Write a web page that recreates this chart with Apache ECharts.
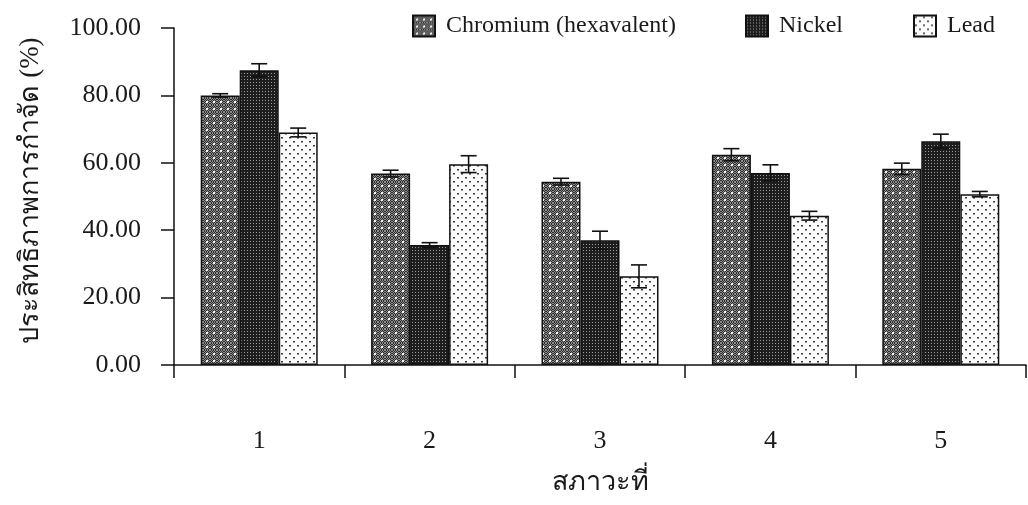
<!DOCTYPE html>
<html><head><meta charset="utf-8">
<script src="https://cdn.jsdelivr.net/npm/echarts@6/dist/echarts.min.js"></script>
<style>html,body{margin:0;padding:0;background:#fff}#c{width:1028px;height:505px}</style>
</head><body><div id="c"></div>
<script>
const categories = ['1', '2', '3', '4', '5'];
const seriesNames = ['Chromium (hexavalent)', 'Nickel', 'Lead'];
const chromium = [80.0, 56.8, 54.4, 62.4, 58.2];
const chromiumErr = [0.5, 1.0, 1.0, 1.8, 1.7];
const nickel = [87.5, 35.6, 37.0, 57.0, 66.4];
const nickelErr = [1.9, 0.7, 2.7, 2.4, 2.1];
const lead = [69.0, 59.6, 26.3, 44.3, 50.7];
const leadErr = [1.3, 2.5, 3.4, 1.3, 0.8];
const yMin = 0, yMax = 100, yStep = 20;

const FONT = '"Liberation Serif", serif';
const INK = '#1a1a1a';

function tile(w, h, bg, draw) {
  const c = document.createElement('canvas');
  c.width = w; c.height = h;
  const g = c.getContext('2d');
  g.fillStyle = bg; g.fillRect(0, 0, w, h);
  draw(g);
  return c;
}
const crTile = tile(7, 7, '#2e2e2e', g => {
  g.fillStyle = '#8c8c8c';
  for (let x = 0; x < 7; x++) for (let y = 0; y < 7; y++) if ((x + y) % 2 === 0) g.fillRect(x, y, 1, 1);
  g.fillStyle = '#f0f0f0'; g.fillRect(3, 3, 2, 2);
});
const niTile = tile(3, 3, '#1e1e1e', g => {
  g.fillStyle = '#9a9a9a'; g.fillRect(1, 1, 1, 1);
});
const pbTile = tile(8, 8, '#fbfbfb', g => {
  g.fillStyle = '#3a3a3a'; g.fillRect(1, 1, 2, 1.5); g.fillRect(5, 5, 2, 1.5);
});
const patterns = [crTile, niTile, pbTile];
const values = [chromium, nickel, lead];
const errors = [chromiumErr, nickelErr, leadErr];
const BAR_W = 39;
const offsets = [-BAR_W, 0, BAR_W];

function errRender(k) {
  return function (params, api) {
    const i = api.value(0), v = api.value(1), e = api.value(2);
    const top = api.coord([i, v + e]);
    const bot = api.coord([i, v - e]);
    const cx = top[0] + offsets[k];
    const hw = 8;
    const st = { stroke: '#111', lineWidth: 1.6 };
    return {
      type: 'group',
      children: [
        { type: 'line', shape: { x1: cx, y1: top[1], x2: cx, y2: bot[1] }, style: st },
        { type: 'line', shape: { x1: cx - hw, y1: top[1], x2: cx + hw, y2: top[1] }, style: st },
        { type: 'line', shape: { x1: cx - hw, y1: bot[1], x2: cx + hw, y2: bot[1] }, style: st }
      ]
    };
  };
}

const series = [];
for (let k = 0; k < 3; k++) {
  series.push({
    name: seriesNames[k], type: 'bar', barWidth: BAR_W, barGap: '0%',
    data: values[k],
    itemStyle: { color: { image: patterns[k], repeat: 'repeat' }, borderColor: '#111', borderWidth: 1.5 },
    emphasis: { disabled: true }
  });
}
for (let k = 0; k < 3; k++) {
  series.push({
    name: 'err' + k, type: 'custom', renderItem: errRender(k), z: 5,
    data: values[k].map((v, i) => [i, v, errors[k][i]])
  });
}

const legendBase = {
  itemWidth: 22, itemHeight: 21, top: 14, icon: 'rect', padding: 0,
  textStyle: { fontFamily: FONT, fontSize: 24, color: INK, padding: [0, 0, 0, 6] },
  selectedMode: false
};
const chart = echarts.init(document.getElementById('c'), null, { renderer: 'canvas' });
chart.setOption({
  backgroundColor: '#fff',
  animation: false,
  legend: [
    Object.assign({ data: [seriesNames[0]], left: 412 }, legendBase),
    Object.assign({ data: [seriesNames[1]], left: 745 }, legendBase),
    Object.assign({ data: [seriesNames[2]], left: 913 }, legendBase)
  ],
  grid: { left: 174, right: 2, top: 28, bottom: 140, containLabel: false, outerBoundsMode: 'none' },
  xAxis: {
    type: 'category', data: categories,
    name: 'สภาวะที่', nameLocation: 'middle', nameGap: 104,
    nameTextStyle: { fontFamily: FONT, fontSize: 27, color: INK },
    axisLine: { lineStyle: { color: '#111', width: 1.5 } },
    axisTick: { show: true, length: 13, lineStyle: { color: '#111', width: 1.5 } },
    axisLabel: { margin: 63, fontFamily: FONT, fontSize: 26, color: INK }
  },
  yAxis: {
    type: 'value', min: yMin, max: yMax, interval: yStep,
    name: 'ประสิทธิภาพการกำจัด (%)', nameLocation: 'middle', nameGap: 130, nameRotate: 90,
    nameTextStyle: { fontFamily: FONT, fontSize: 27, color: INK, padding: [0, 0, 0, 12] },
    axisLine: { show: true, lineStyle: { color: '#111', width: 1.5 } },
    axisTick: { show: true, length: 13, lineStyle: { color: '#111', width: 1.5 } },
    splitLine: { show: false },
    axisLabel: { margin: 33, fontFamily: FONT, fontSize: 26, color: INK, formatter: v => v.toFixed(2) }
  },
  series: series
});
</script></body></html>
